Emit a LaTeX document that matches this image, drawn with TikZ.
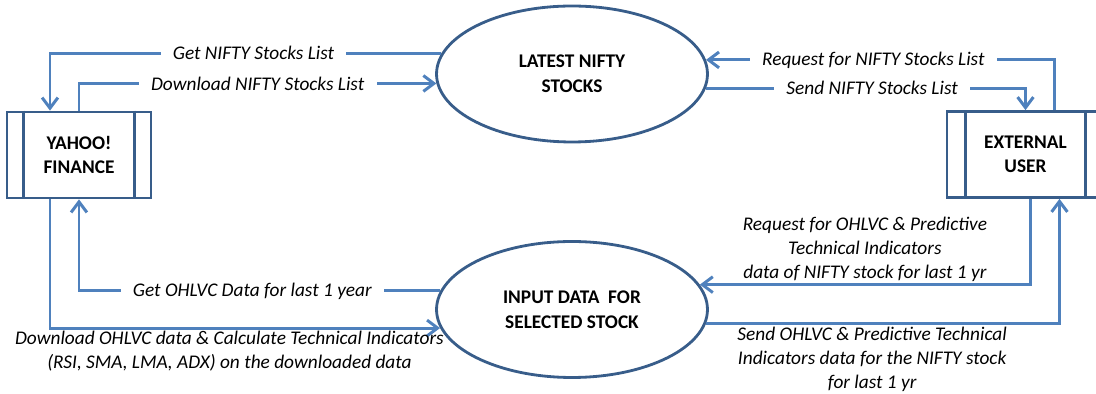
\documentclass[tikz,border=0pt]{standalone}
\usepackage{fontspec}
\setmainfont{Carlito}
\usetikzlibrary{shapes.geometric,arrows.meta,calc}
\definecolor{flowblue}{RGB}{79,129,189}
\definecolor{edgeblue}{RGB}{56,93,138}
\begin{document}
\begin{tikzpicture}[x=0.02cm, y=-0.02cm,
  process/.style={draw=edgeblue, line width=1.6pt, ellipse, minimum width=5.42cm,
    minimum height=2.72cm, inner sep=0pt, align=center, font=\fontsize{11}{14}\selectfont\bfseries},
  entity/.style={draw=edgeblue, line width=1.6pt, rectangle, minimum height=1.72cm,
    inner sep=0pt, align=center, font=\fontsize{11}{14}\selectfont\bfseries},
  flow/.style={draw=flowblue, line width=1.7pt, -{Straight Barb[length=6pt,width=9pt]}},
  lbl/.style={fill=white, inner xsep=7pt, inner ysep=1pt, font=\fontsize{11}{13.6}\selectfont\itshape},
  note/.style={inner sep=1pt, align=center, font=\fontsize{11}{13.6}\selectfont\itshape}]
\useasboundingbox (0,0) rectangle (1096,394);
% processes
\node[process] (lns) at (572,74) {LATEST NIFTY\\STOCKS};
\node[process] (ids) at (572,309.5) {INPUT DATA \ FOR\\SELECTED STOCK};
% external entities
\node[entity, minimum width=2.88cm] (yf) at (79,155) {YAHOO!\\FINANCE};
\node[entity, minimum width=3.14cm] (eu) at (1025.5,154.5) {EXTERNAL\\USER};
\draw[draw=edgeblue, line width=1.6pt] ([xshift=0.36cm]yf.north west) -- ([xshift=0.36cm]yf.south west);
\draw[draw=edgeblue, line width=1.6pt] ([xshift=-0.36cm]yf.north east) -- ([xshift=-0.36cm]yf.south east);
\draw[draw=edgeblue, line width=1.6pt] ([xshift=0.4cm]eu.north west) -- ([xshift=0.4cm]eu.south west);
\draw[draw=edgeblue, line width=1.6pt] ([xshift=-0.4cm]eu.north east) -- ([xshift=-0.4cm]eu.south east);
% stock list flows
\draw[flow] (lns.171.2) -| ($(yf.north)+(-29,0)$) node[lbl, pos=0.24] {Get NIFTY Stocks List};
\draw[flow] (yf.north) |- (lns.184.7) node[lbl, pos=0.75] {Download NIFTY Stocks List};
\draw[flow] ($(eu.north)+(29,0)$) |- (lns.6.9) node[lbl, pos=0.76] {Request for NIFTY Stocks List};
\draw[flow] (lns.354.4) -| (eu.north) node[lbl, pos=0.26] {Send NIFTY Stocks List};
% stock data flows
\draw[flow] (ids.172.6) -| (yf.south) node[lbl, pos=0.26] {Get OHLVC Data for last 1 year};
\draw[flow] ($(yf.south)+(-29,0)$) |- (ids.188.8)
  node[note, pos=0.73, anchor=north] {Download OHLVC data \& Calculate Technical Indicators\\(RSI, SMA, LMA, ADX) on the downloaded data};
\draw[flow] ($(eu.south)+(4.5,0)$) |- (ids.11.7)
  node[note, pos=0.75, anchor=south] {Request for OHLVC \& Predictive\\Technical Indicators\\data of NIFTY stock for last 1 yr};
\draw[flow] (ids.354.9) -| ($(eu.south)+(34,0)$)
  node[note, pos=0.235, anchor=north] {Send OHLVC \& Predictive Technical\\Indicators data for the NIFTY stock\\for last 1 yr};
\end{tikzpicture}
\end{document}
